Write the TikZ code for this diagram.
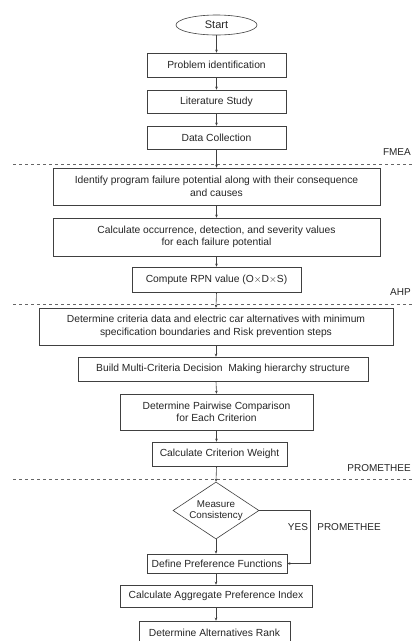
\documentclass[tikz,border=0pt]{standalone}
\usepackage{fontspec}
\setmainfont{Liberation Sans}
\usepackage{tikz}
\usetikzlibrary{arrows.meta, shapes.geometric}
\tikzset{
  stepbox/.style={draw=black!75, line width=0.6pt, rectangle, align=center, inner sep=1pt, text=black!85, font=\fontsize{10.3}{12.5}\selectfont},
  startnode/.style={draw=black!75, line width=0.6pt, ellipse, inner sep=0pt, text=black!85, font=\fontsize{11}{13}\selectfont},
  decision/.style={draw=black!75, line width=0.6pt, diamond, aspect=1.5, inner sep=0pt, align=center, text=black!85, font=\fontsize{9.8}{11.5}\selectfont},
  arr/.style={draw=black!75, line width=0.6pt, -{Stealth[length=3pt,width=2.6pt]}},
  phase/.style={draw=black!60, line width=0.6pt, dashed},
  phaselabel/.style={anchor=east, inner sep=0pt, text=black!85, font=\fontsize{10}{12}\selectfont}
}

\begin{document}
\begin{tikzpicture}[x=1pt, y=-1pt]
\useasboundingbox[fill=white] (0,0) rectangle (412,641);

\node[startnode, minimum width=81pt, minimum height=20pt] (start) at (216.5,25) {Start};
\node[stepbox, minimum width=139pt, minimum height=24pt] (prob) at (216.5,65) {Problem identification};
\node[stepbox, minimum width=139pt, minimum height=23pt] (lit) at (216.5,101.5) {Literature Study};
\node[stepbox, minimum width=139pt, minimum height=23pt] (data) at (216.5,137.5) {Data Collection};

\node[stepbox, minimum width=327pt, minimum height=37pt] (ident) at (216.5,186.5) {Identify program failure potential along with their consequence\\and causes};
\node[stepbox, minimum width=327pt, minimum height=38pt] (occ) at (216.5,237) {Calculate occurrence, detection, and severity values\\for each failure potential};
\node[stepbox, minimum width=169pt, minimum height=25pt] (rpn) at (216.5,279.5) {Compute RPN value (O$\times$D$\times$S)};

\node[stepbox, minimum width=354pt, minimum height=37pt] (crit) at (216,326.5) {Determine criteria data and electric car alternatives with minimum\\specification boundaries and Risk prevention steps};
\node[stepbox, minimum width=290pt, minimum height=24pt] (build) at (223,369) {Build Multi-Criteria Decision\ \ Making hierarchy structure};
\node[stepbox, minimum width=193pt, minimum height=36pt] (pair) at (216.5,412) {Determine Pairwise Comparison\\for Each Criterion};
\node[stepbox, minimum width=135pt, minimum height=24pt] (weight) at (219.5,454) {Calculate Criterion Weight};

\node[decision, minimum width=86pt, minimum height=57pt] (meas) at (216,510.5) {Measure\\Consistency};
\node[stepbox, minimum width=140pt, minimum height=19pt] (pref) at (217,563.5) {Define Preference Functions};
\node[stepbox, minimum width=192pt, minimum height=22pt] (agg) at (216,596) {Calculate Aggregate Preference Index};
\node[stepbox, minimum width=151pt, minimum height=24pt] (rank) at (214.5,633) {Determine Alternatives Rank};

\draw[phase] (13,164)--(412,164);
\draw[phase] (13,304)--(412,304);
\draw[phase] (13,479)--(412,479);

\node[phaselabel] (fmea) at (411,152) {FMEA};
\node[phaselabel] (ahp) at (411,292) {AHP};
\node[phaselabel] (prom) at (411,468) {PROMETHEE};

\draw[arr] (start) -- (prob);
\draw[arr] (prob) -- (lit);
\draw[arr] (lit) -- (data);
\draw[arr] (data.south) -- (ident.north);
\draw[arr] (ident) -- (occ);
\draw[arr] (occ) -- (rpn);
\draw[arr] (rpn.south) -- (crit.north);
\draw[arr] (crit.south) -- (crit.south |- build.north);
\draw[arr] (crit.south |- build.south) -- (pair.north);
\draw[arr] (pair.south) -- (pair.south |- weight.north);
\draw[arr] (pair.south |- weight.south) -- (meas.north);
\draw[arr] (meas.south) -- (meas.south |- pref.north);
\draw[arr] (meas.south |- pref.south) -- (agg.north);
\draw[arr] (agg.south) -- (agg.south |- rank.north);

\coordinate (loop) at (310,510.5);
\draw[arr] (meas.east) -- (loop) |- (pref.east);
\node[text=black!85, font=\fontsize{10}{12}\selectfont] (yes) at (298,527) {YES};
\node[text=black!85, font=\fontsize{10}{12}\selectfont] (promloop) at (349,527) {PROMETHEE};

\end{tikzpicture}
\end{document}
